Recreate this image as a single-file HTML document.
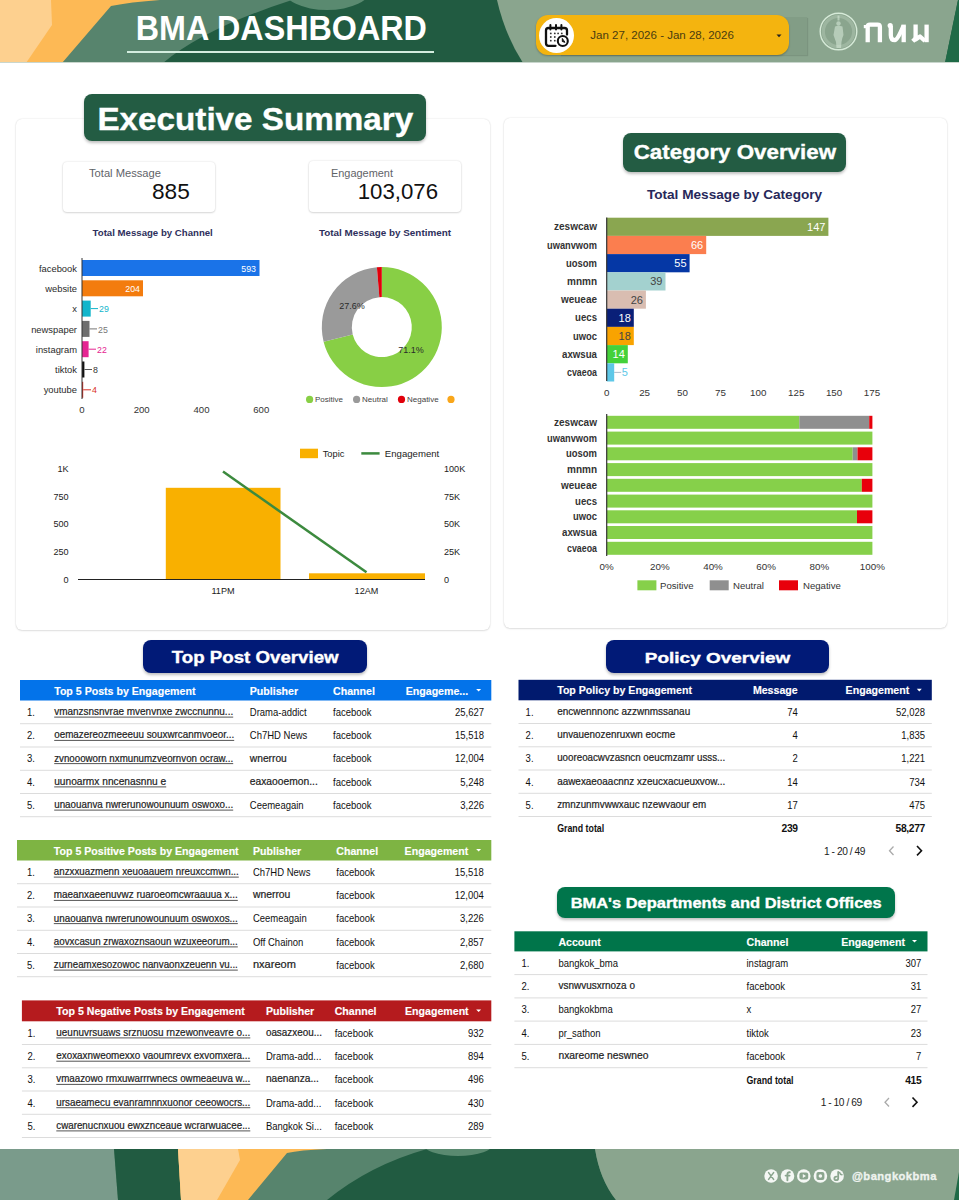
<!DOCTYPE html>
<html><head><meta charset="utf-8">
<style>
*{margin:0;padding:0;box-sizing:border-box}
html,body{width:959px;height:1200px;overflow:hidden;background:#fff;font-family:"Liberation Sans",sans-serif;color:#222}
.a{position:absolute}
.card{position:absolute;background:#fff;border-radius:6px;box-shadow:0 0 1.5px rgba(0,0,0,0.16),0 1px 2px rgba(0,0,0,0.10)}
.badge{position:absolute;border-radius:8px;color:#fff;font-weight:bold;text-align:center;white-space:nowrap;box-shadow:0 2px 3px rgba(0,0,0,0.25)}
.badge span{-webkit-text-stroke:0.35px #fff}
.t{position:absolute;white-space:nowrap;line-height:1}
</style></head><body>
<!-- HEADER -->
<svg class="a" style="left:0;top:0" width="959" height="63" viewBox="0 0 959 63">
  <rect x="0" y="0" width="959" height="63" fill="#215b41"/>
  <ellipse cx="327" cy="-11" rx="44" ry="21" fill="#5a8a70"/>
  <path d="M0,0 L292,0 Q205,28 163,63 L0,63 Z" fill="#57846d"/>
  <path d="M0,0 L160,0 Q130,2 111,6 L62,63 L0,63 Z" fill="#fdb955"/>
  <path d="M0,0 L51,0 L52,25 L26,63 L0,63 Z" fill="#fdd08f"/>
  <path d="M497,0 L958,0 L945,63 L523,63 Q505,35 497,0 Z" fill="#8aa58e"/>
  <path d="M958,0 L959,0 L959,63 L945,63 Z" fill="#1f6a47"/>
  <rect x="0" y="62" width="959" height="1" fill="#c9d6cd"/>
</svg>
<svg class="a" style="left:120px;top:5px" width="320" height="45" viewBox="120 5 320 45"><text x="135.8" y="39.5" font-family="Liberation Sans" font-size="35" font-weight="bold" fill="#fff" textLength="291" lengthAdjust="spacingAndGlyphs">BMA DASHBOARD</text></svg>
<div class="a" style="left:127px;top:51px;width:307px;height:2px;background:#d3eddf"></div>
<!-- date picker -->
<div class="a" style="left:560px;top:17px;width:247px;height:38px;background:rgba(30,50,35,0.07);box-shadow:1px 1px 1px rgba(0,0,0,0.1)"></div>
<div class="a" style="left:535.5px;top:14.7px;width:253.5px;height:40.2px;background:#f4b40f;border-radius:12px;box-shadow:0 1px 2px rgba(0,0,0,0.25)"></div>
<div class="a" style="left:538.8px;top:18.4px;width:35px;height:35px;background:#fff;border-radius:50%"></div>
<svg class="a" style="left:540px;top:20px" width="32" height="32" viewBox="540 20 32 32" fill="none" stroke="#111" stroke-width="2.3" stroke-linecap="round">
  <path d="M555.5,45.8 H548.5 Q546,45.8 546,43.3 V30.5 Q546,28 548.5,28 H564.5 Q567,28 567,30.5 V34.5"/>
  <path d="M550.4,25 V29.5 M556,25 V29.5 M561.4,25 V29.5" stroke-width="2"/>
  <g fill="#333" stroke="none"><circle cx="550.8" cy="33.4" r="0.9"/><circle cx="554.8" cy="33.4" r="0.9"/><circle cx="558.1" cy="33.4" r="0.9"/><circle cx="561.8" cy="33.4" r="0.9"/><circle cx="550.8" cy="37" r="0.9"/><circle cx="554.8" cy="37" r="0.9"/><circle cx="550.8" cy="40.7" r="0.9"/><circle cx="554.8" cy="40.7" r="0.9"/></g>
  <circle cx="562.8" cy="41" r="5" stroke-width="2.1"/>
  <path d="M562.3,38.8 V41.5 L564.6,42.2 Z" fill="#111" stroke-width="1"/>
</svg>
<svg class="a" style="left:580px;top:20px" width="180" height="30" viewBox="580 20 180 30"><text x="590.3" y="39.4" font-family="Liberation Sans" font-size="11.6" fill="#4a3c10" textLength="143.5" lengthAdjust="spacingAndGlyphs">Jan 27, 2026 - Jan 28, 2026</text></svg>
<svg class="a" style="left:775.5px;top:34px" width="6" height="4" viewBox="0 0 6 4"><path d="M0.5,0.5 H5.5 L3,3.2 Z" fill="#222"/></svg>
<!-- logo -->
<svg class="a" style="left:815px;top:8px" width="48" height="48" viewBox="0 0 48 48" fill="none">
  <circle cx="23.5" cy="23.5" r="18.3" stroke="#d6ead8" stroke-width="1.4"/>
  <circle cx="23.5" cy="23.5" r="15.2" stroke="#cfe3d1" stroke-width="3.2" stroke-opacity="0.28"/>
  <g fill="#d4e6d5" fill-opacity="0.6">
    <path d="M22.5,7.5 h2 v5 h-2 z"/>
    <ellipse cx="23.5" cy="15.5" rx="2.2" ry="2.3"/>
    <path d="M20,18.5 Q23.5,17 27.5,18.5 L28.5,27 Q27,30 26.5,34 L26,40 L21.5,40 L21,34 Q19.5,30 18.5,27 Z"/>
  </g>
</svg>
<svg class="a" style="left:860px;top:15px" width="75" height="33" viewBox="0 0 75 33" fill="none" stroke="#fff" stroke-width="4.3" stroke-linejoin="round">
  <path d="M7.7,27.2 V11.5 Q7.7,9.6 10,9.6 H17.6 Q19.9,9.6 19.9,11.8 V27.2"/>
  <rect x="3.8" y="10" width="4" height="3.2" fill="#fff" stroke="none"/>
  <path d="M30.8,11 V20 Q30.8,25.2 35,25.2 Q37.5,25.2 43.6,10.5"/>
  <circle cx="30.2" cy="10.6" r="2.6" fill="#fff" stroke="none"/>
  <path d="M43.7,9.6 V27.2"/>
  <path d="M55.6,9.6 V24.5 L60,21.5 L65,26"/>
  <path d="M66.6,9.6 V27.2"/>
  <path d="M52.5,23.5 L55.5,26.5" stroke-width="3.5"/>
</svg>
<!-- LEFT CARD -->
<div class="card" style="left:16.3px;top:119px;width:474px;height:510.5px"></div>

<div class="badge" style="left:83.8px;top:93.8px;width:342.7px;height:47.4px;background:#235c43"><span style="position:absolute;left:0;right:0;top:2.6px;line-height:47.4px;font-size:30.8px;transform:scaleX(1.079);transform-origin:50% 50%">Executive Summary</span></div>
<!-- KPI -->
<div class="card" style="left:63px;top:162px;width:152px;height:50px;border-radius:4px;box-shadow:0 0 2px rgba(0,0,0,0.15),0 1px 2px rgba(0,0,0,0.12)"></div>
<div class="card" style="left:309px;top:161px;width:152px;height:51px;border-radius:4px;box-shadow:0 0 2px rgba(0,0,0,0.15),0 1px 2px rgba(0,0,0,0.12)"></div>
<svg class="a" style="left:0;top:150px" width="500" height="100" viewBox="0 150 500 100" font-family="Liberation Sans">
  <text x="89" y="176.6" font-size="11.2" fill="#5f6368" textLength="72" lengthAdjust="spacingAndGlyphs">Total Message</text>
  <text x="152" y="199.3" font-size="21.5" fill="#111" textLength="37.8" lengthAdjust="spacingAndGlyphs">885</text>
  <text x="331" y="176.6" font-size="11.2" fill="#5f6368" textLength="62" lengthAdjust="spacingAndGlyphs">Engagement</text>
  <text x="357.7" y="199.3" font-size="21.5" fill="#111" textLength="80.3" lengthAdjust="spacingAndGlyphs">103,076</text>
  <text x="92.6" y="236.2" font-size="9.8" font-weight="bold" fill="#2e2f5c" textLength="120.2" lengthAdjust="spacingAndGlyphs">Total Message by Channel</text>
  <text x="319" y="236.2" font-size="9.8" font-weight="bold" fill="#2e2f5c" textLength="132" lengthAdjust="spacingAndGlyphs">Total Message by Sentiment</text>
</svg>
<!-- channel bar chart -->
<svg class="a" style="left:0;top:250px" width="290" height="170" viewBox="0 250 290 170" font-family="Liberation Sans" font-size="10">
  <g text-anchor="end" fill="#2b2b2b" font-size="9.4">
    <text x="77" y="271.5">facebook</text>
    <text x="77" y="292">website</text>
    <text x="77" y="312.3">x</text>
    <text x="77" y="332.5">newspaper</text>
    <text x="77" y="352.8">instagram</text>
    <text x="77" y="373">tiktok</text>
    <text x="77" y="393.3">youtube</text>
  </g>
  <rect x="82" y="260" width="177.5" height="16" fill="#1a73e8"/>
  <rect x="82" y="280.3" width="61" height="16" fill="#f37c0e"/>
  <rect x="82" y="300.6" width="8.7" height="16" fill="#12b5cb"/>
  <rect x="82" y="320.9" width="7.5" height="16" fill="#6e6e6e"/>
  <rect x="82" y="341.2" width="6.6" height="16" fill="#e52592"/>
  <rect x="82" y="361.5" width="2.4" height="16" fill="#111"/>
  <rect x="82" y="381.8" width="1.2" height="16" fill="#d93025"/>
  <g stroke-width="1">
    <line x1="90.7" y1="308.6" x2="98" y2="308.6" stroke="#12b5cb"/>
    <line x1="89.5" y1="328.9" x2="97" y2="328.9" stroke="#777"/>
    <line x1="88.6" y1="349.2" x2="96" y2="349.2" stroke="#e52592"/>
    <line x1="84.4" y1="369.5" x2="92" y2="369.5" stroke="#555"/>
    <line x1="83.2" y1="389.8" x2="91" y2="389.8" stroke="#d93025"/>
  </g>
  <text x="256" y="271.5" text-anchor="end" fill="#fff" font-size="8.8">593</text>
  <text x="140" y="292" text-anchor="end" fill="#fff" font-size="8.8">204</text>
  <text x="99" y="312.3" fill="#12b5cb" font-size="8.8">29</text>
  <text x="98" y="332.5" fill="#777" font-size="8.8">25</text>
  <text x="97" y="352.8" fill="#e52592" font-size="8.8">22</text>
  <text x="93" y="373" fill="#333" font-size="8.8">8</text>
  <text x="92" y="393.3" fill="#d93025" font-size="8.8">4</text>
  <line x1="82" y1="258" x2="82" y2="399" stroke="#333" stroke-width="1"/>
  <g text-anchor="middle" fill="#333" font-size="9.6">
    <text x="82" y="413">0</text>
    <text x="141.7" y="413">200</text>
    <text x="201.5" y="413">400</text>
    <text x="261.3" y="413">600</text>
  </g>
</svg>
<!-- donut -->
<svg class="a" style="left:290px;top:250px" width="200" height="165" viewBox="290 250 200 165" font-family="Liberation Sans">
  <g transform="translate(381.8,327.1)">
    <path d="M0.00,-60.00 A60,60 0 1 1 -58.21,14.56 L-29.10,7.28 A30,30 0 1 0 0.00,-30.00 Z" fill="#88cf45"/><path d="M-58.21,14.56 A60,60 0 0 1 -4.90,-59.80 L-2.45,-29.90 A30,30 0 0 0 -29.10,7.28 Z" fill="#9a9a9a"/><path d="M-4.90,-59.80 A60,60 0 0 1 -0.00,-60.00 L-0.00,-30.00 A30,30 0 0 0 -2.45,-29.90 Z" fill="#e1000b"/>
  </g>

  <text x="352" y="308.8" text-anchor="middle" font-size="9" fill="#2a2a2a">27.6%</text>
  <text x="411" y="352.8" text-anchor="middle" font-size="9" fill="#2a2a2a">71.1%</text>
  <circle cx="309.6" cy="399.4" r="3.6" fill="#88cf45"/><text x="315" y="402.3" font-size="8" fill="#444">Positive</text>
  <circle cx="356.6" cy="399.4" r="3.6" fill="#9a9a9a"/><text x="362" y="402.3" font-size="8" fill="#444">Neutral</text>
  <circle cx="401.5" cy="399.4" r="3.6" fill="#e1000b"/><text x="407" y="402.3" font-size="8" fill="#444">Negative</text>
  <circle cx="451" cy="399.4" r="3.6" fill="#f9a61a"/>
</svg>
<!-- combo chart -->
<svg class="a" style="left:20px;top:440px" width="465" height="160" viewBox="20 440 465 160" font-family="Liberation Sans" font-size="9.5">
  <rect x="300" y="448.7" width="18" height="9.5" fill="#f9b000"/>
  <text x="322.7" y="457" fill="#222" font-size="9.3">Topic</text>
  <line x1="361.3" y1="453.4" x2="379.6" y2="453.4" stroke="#3c8a3e" stroke-width="2.5"/>
  <text x="384.8" y="457" fill="#222" font-size="9.3" textLength="54.5" lengthAdjust="spacingAndGlyphs">Engagement</text>
  <g text-anchor="end" fill="#222" font-size="9.1">
    <text x="68.6" y="472">1K</text>
    <text x="68.6" y="499.7">750</text>
    <text x="68.6" y="527.3">500</text>
    <text x="68.6" y="555">250</text>
    <text x="68.6" y="582.5">0</text>
  </g>
  <g fill="#222" font-size="9.1">
    <text x="444" y="472">100K</text>
    <text x="444" y="499.7">75K</text>
    <text x="444" y="527.3">50K</text>
    <text x="444" y="555">25K</text>
    <text x="444" y="582.5">0</text>
  </g>
  <rect x="165.8" y="487.8" width="114.7" height="91.2" fill="#f9b000"/>
  <rect x="309" y="573.3" width="116" height="5.7" fill="#f9b000"/>
  <rect x="78" y="579" width="347" height="1" fill="#222"/>
  <line x1="223" y1="471.6" x2="366.5" y2="572.2" stroke="#3c8a3e" stroke-width="2.5"/>
  <g text-anchor="middle" fill="#222" font-size="9.1">
    <text x="223" y="594">11PM</text>
    <text x="366.5" y="594">12AM</text>
  </g>
</svg>
<!-- RIGHT CARD -->
<div class="card" style="left:503.5px;top:117.5px;width:443.5px;height:510.5px"></div>
<div class="badge" style="left:622.5px;top:133px;width:223.8px;height:38.8px;background:#235c43"><span style="position:absolute;left:0;right:0;top:0.7px;line-height:38.8px;font-size:19.3px;transform:scaleX(1.158);transform-origin:50% 50%">Category Overview</span></div>

<!-- CAT -->
<svg class="a" style="left:504px;top:180px" width="442" height="440" viewBox="504 180 442 440" font-family="Liberation Sans">
<text x="646.9" y="198.8" font-size="13.6" font-weight="bold" fill="#27285a" textLength="175.3" lengthAdjust="spacingAndGlyphs">Total Message by Category</text>
<text x="554.0" y="230.3" font-size="11" font-weight="bold" fill="#333" textLength="43" lengthAdjust="spacingAndGlyphs">zeswcaw</text>
<rect x="606.7" y="217.7" width="221.7" height="18.2" fill="#8aa650"/>
<text x="825.4" y="230.8" text-anchor="end" font-size="11" fill="#fff">147</text>
<text x="547.0" y="248.5" font-size="11" font-weight="bold" fill="#333" textLength="50" lengthAdjust="spacingAndGlyphs">uwanvwom</text>
<rect x="606.7" y="235.9" width="99.5" height="18.2" fill="#fb7e4f"/>
<text x="703.2" y="249.0" text-anchor="end" font-size="11" fill="#fff">66</text>
<text x="566.0" y="266.7" font-size="11" font-weight="bold" fill="#333" textLength="31" lengthAdjust="spacingAndGlyphs">uosom</text>
<rect x="606.7" y="254.1" width="82.9" height="18.2" fill="#0537a5"/>
<text x="686.6" y="267.2" text-anchor="end" font-size="11" fill="#fff">55</text>
<text x="567.0" y="284.9" font-size="11" font-weight="bold" fill="#333" textLength="30" lengthAdjust="spacingAndGlyphs">mnmn</text>
<rect x="606.7" y="272.3" width="58.8" height="18.2" fill="#a3d1cf"/>
<text x="662.5" y="285.4" text-anchor="end" font-size="11" fill="#444">39</text>
<text x="561.0" y="303.1" font-size="11" font-weight="bold" fill="#333" textLength="36" lengthAdjust="spacingAndGlyphs">weueae</text>
<rect x="606.7" y="290.5" width="39.2" height="18.2" fill="#d9bdb1"/>
<text x="642.9" y="303.6" text-anchor="end" font-size="11" fill="#444">26</text>
<text x="575.0" y="321.3" font-size="11" font-weight="bold" fill="#333" textLength="22" lengthAdjust="spacingAndGlyphs">uecs</text>
<rect x="606.7" y="308.7" width="27.1" height="18.2" fill="#0a1f78"/>
<text x="630.8" y="321.8" text-anchor="end" font-size="11" fill="#fff">18</text>
<text x="573.0" y="339.5" font-size="11" font-weight="bold" fill="#333" textLength="24" lengthAdjust="spacingAndGlyphs">uwoc</text>
<rect x="606.7" y="326.9" width="27.1" height="18.2" fill="#f9a300"/>
<text x="630.8" y="340.0" text-anchor="end" font-size="11" fill="#444">18</text>
<text x="562.0" y="357.7" font-size="11" font-weight="bold" fill="#333" textLength="35" lengthAdjust="spacingAndGlyphs">axwsua</text>
<rect x="606.7" y="345.1" width="21.1" height="18.2" fill="#44d13a"/>
<text x="624.8" y="358.2" text-anchor="end" font-size="11" fill="#fff">14</text>
<text x="567.0" y="375.9" font-size="11" font-weight="bold" fill="#333" textLength="30" lengthAdjust="spacingAndGlyphs">cvaeoa</text>
<rect x="606.7" y="363.3" width="7.5" height="18.2" fill="#5ec8e8"/>
<line x1="614.2" y1="372.4" x2="621.2" y2="372.4" stroke="#9ab" stroke-width="0.8"/>
<text x="621.7" y="376.4" font-size="11" fill="#5ec8e8">5</text>
<rect x="606.1" y="217.5" width="1.2" height="163.5" fill="#333"/>
<text x="606.7" y="395.5" text-anchor="middle" font-size="9.8" fill="#333">0</text>
<text x="644.6" y="395.5" text-anchor="middle" font-size="9.8" fill="#333">25</text>
<text x="682.5" y="395.5" text-anchor="middle" font-size="9.8" fill="#333">50</text>
<text x="720.4" y="395.5" text-anchor="middle" font-size="9.8" fill="#333">75</text>
<text x="758.3" y="395.5" text-anchor="middle" font-size="9.8" fill="#333">100</text>
<text x="796.2" y="395.5" text-anchor="middle" font-size="9.8" fill="#333">125</text>
<text x="834.1" y="395.5" text-anchor="middle" font-size="9.8" fill="#333">150</text>
<text x="872.0" y="395.5" text-anchor="middle" font-size="9.8" fill="#333">175</text>
<text x="554.0" y="425.8" font-size="11" font-weight="bold" fill="#333" textLength="43" lengthAdjust="spacingAndGlyphs">zeswcaw</text>
<rect x="606.7" y="415.8" width="192.6" height="13" fill="#86d04a"/>
<rect x="799.3" y="415.8" width="69.9" height="13" fill="#8f8f8f"/>
<rect x="869.2" y="415.8" width="3.2" height="13" fill="#e8000b"/>
<text x="547.0" y="441.6" font-size="11" font-weight="bold" fill="#333" textLength="50" lengthAdjust="spacingAndGlyphs">uwanvwom</text>
<rect x="606.7" y="431.6" width="265.7" height="13" fill="#86d04a"/>
<text x="566.0" y="457.3" font-size="11" font-weight="bold" fill="#333" textLength="31" lengthAdjust="spacingAndGlyphs">uosom</text>
<rect x="606.7" y="447.3" width="246.0" height="13" fill="#86d04a"/>
<rect x="852.7" y="447.3" width="4.8" height="13" fill="#8f8f8f"/>
<rect x="857.5" y="447.3" width="14.9" height="13" fill="#e8000b"/>
<text x="567.0" y="473.1" font-size="11" font-weight="bold" fill="#333" textLength="30" lengthAdjust="spacingAndGlyphs">mnmn</text>
<rect x="606.7" y="463.1" width="265.7" height="13" fill="#86d04a"/>
<text x="561.0" y="488.8" font-size="11" font-weight="bold" fill="#333" textLength="36" lengthAdjust="spacingAndGlyphs">weueae</text>
<rect x="606.7" y="478.8" width="255.1" height="13" fill="#86d04a"/>
<rect x="861.8" y="478.8" width="10.6" height="13" fill="#e8000b"/>
<text x="575.0" y="504.6" font-size="11" font-weight="bold" fill="#333" textLength="22" lengthAdjust="spacingAndGlyphs">uecs</text>
<rect x="606.7" y="494.6" width="265.7" height="13" fill="#86d04a"/>
<text x="573.0" y="520.3" font-size="11" font-weight="bold" fill="#333" textLength="24" lengthAdjust="spacingAndGlyphs">uwoc</text>
<rect x="606.7" y="510.3" width="250.3" height="13" fill="#86d04a"/>
<rect x="857.0" y="510.3" width="15.4" height="13" fill="#e8000b"/>
<text x="562.0" y="536.0" font-size="11" font-weight="bold" fill="#333" textLength="35" lengthAdjust="spacingAndGlyphs">axwsua</text>
<rect x="606.7" y="526.0" width="265.7" height="13" fill="#86d04a"/>
<text x="567.0" y="551.8" font-size="11" font-weight="bold" fill="#333" textLength="30" lengthAdjust="spacingAndGlyphs">cvaeoa</text>
<rect x="606.7" y="541.8" width="265.7" height="13" fill="#86d04a"/>
<rect x="606.1" y="414" width="1.2" height="142" fill="#333"/>
<text x="606.7" y="569.5" text-anchor="middle" font-size="9.8" fill="#333">0%</text>
<text x="659.8" y="569.5" text-anchor="middle" font-size="9.8" fill="#333">20%</text>
<text x="713.0" y="569.5" text-anchor="middle" font-size="9.8" fill="#333">40%</text>
<text x="766.1" y="569.5" text-anchor="middle" font-size="9.8" fill="#333">60%</text>
<text x="819.3" y="569.5" text-anchor="middle" font-size="9.8" fill="#333">80%</text>
<text x="872.4" y="569.5" text-anchor="middle" font-size="9.8" fill="#333">100%</text>
<rect x="637.4" y="580.3" width="19" height="10" fill="#86d04a"/><text x="660" y="589" font-size="9.6" fill="#333">Positive</text>
<rect x="709.7" y="580.3" width="19" height="10" fill="#8f8f8f"/><text x="733" y="589" font-size="9.6" fill="#333">Neutral</text>
<rect x="779" y="580.3" width="19" height="10" fill="#e8000b"/><text x="803" y="589" font-size="9.6" fill="#333">Negative</text>
</svg>
<!-- /CAT -->
<!-- BADGES2 -->
<div class="badge" style="left:142.9px;top:639.8px;width:224.4px;height:33.1px;background:#011a77"><span style="position:absolute;left:0;right:0;top:1.5px;line-height:33.1px;font-size:16px;transform:scaleX(1.167);transform-origin:50% 50%">Top Post Overview</span></div>
<div class="badge" style="left:606.3px;top:640px;width:223.2px;height:32.5px;background:#011a77"><span style="position:absolute;left:0;right:0;top:2px;line-height:32.5px;font-size:15px;transform:scaleX(1.265);transform-origin:50% 50%">Policy Overview</span></div>
<div class="badge" style="left:556.6px;top:886.6px;width:338.3px;height:31.7px;background:#00754b"><span style="position:absolute;left:0;right:0;top:0.5px;line-height:31.7px;font-size:15.5px;transform:scaleX(1.061);transform-origin:50% 50%">BMA's Departments and District Offices</span></div>
<!-- TABLES -->
<svg class="a" style="left:0;top:630px" width="959" height="520" viewBox="0 630 959 520" font-family="Liberation Sans">
<rect x="20" y="680" width="471.3" height="20.5" fill="#0373ea"/>
<text transform="translate(54.2 694.5) scale(0.915 1)" font-size="11.6" font-weight="bold" fill="#fff" stroke="#fff" stroke-width="0.15" text-anchor="start">Top 5 Posts by Engagement</text>
<text transform="translate(249.8 694.5) scale(0.915 1)" font-size="11.6" font-weight="bold" fill="#fff" stroke="#fff" stroke-width="0.15" text-anchor="start">Publisher</text>
<text transform="translate(333 694.5) scale(0.915 1)" font-size="11.6" font-weight="bold" fill="#fff" stroke="#fff" stroke-width="0.15" text-anchor="start">Channel</text>
<text transform="translate(405.7 694.5) scale(0.915 1)" font-size="11.6" font-weight="bold" fill="#fff" stroke="#fff" stroke-width="0.15" text-anchor="start">Engageme...</text>
<path d="M476.1,689.0 h5 l-2.5,2.6 z" fill="#fff"/>
<text transform="translate(27 715.9) scale(0.905 1)" font-size="10.5" fill="#111" text-anchor="start">1.</text>
<text x="54.2" y="715.1" font-size="10.8" fill="#1e1e1e" stroke="#1e1e1e" stroke-width="0.22" textLength="179" lengthAdjust="spacingAndGlyphs">vmanzsnsnvrae mvenvnxe zwccnunnu...</text><rect x="54.2" y="716.6" width="179" height="1" fill="#555"/>
<text transform="translate(249.8 715.9) scale(0.905 1)" font-size="10.5" fill="#111" text-anchor="start">Drama-addict</text>
<text transform="translate(333 715.9) scale(0.905 1)" font-size="10.5" fill="#111" text-anchor="start">facebook</text>
<text transform="translate(484.1 715.9) scale(0.905 1)" font-size="10.5" fill="#111" text-anchor="end">25,627</text>
<rect x="20" y="723.2" width="471.3" height="1" fill="#dcdcdc"/>
<text transform="translate(27 739.2) scale(0.905 1)" font-size="10.5" fill="#111" text-anchor="start">2.</text>
<text x="54.2" y="738.4" font-size="10.8" fill="#1e1e1e" stroke="#1e1e1e" stroke-width="0.22" textLength="180" lengthAdjust="spacingAndGlyphs">oemazereozmeeeuu souxwrcanmvoeor...</text><rect x="54.2" y="739.9" width="180" height="1" fill="#555"/>
<text transform="translate(249.8 739.2) scale(0.905 1)" font-size="10.5" fill="#111" text-anchor="start">Ch7HD News</text>
<text transform="translate(333 739.2) scale(0.905 1)" font-size="10.5" fill="#111" text-anchor="start">facebook</text>
<text transform="translate(484.1 739.2) scale(0.905 1)" font-size="10.5" fill="#111" text-anchor="end">15,518</text>
<rect x="20" y="746.5" width="471.3" height="1" fill="#dcdcdc"/>
<text transform="translate(27 762.4) scale(0.905 1)" font-size="10.5" fill="#111" text-anchor="start">3.</text>
<text x="54.2" y="761.6" font-size="10.8" fill="#1e1e1e" stroke="#1e1e1e" stroke-width="0.22" textLength="179" lengthAdjust="spacingAndGlyphs">zvnoooworn nxmunumzveornvon ocraw...</text><rect x="54.2" y="763.1" width="179" height="1" fill="#555"/>
<text x="249.8" y="761.6" font-size="10.8" fill="#1e1e1e" stroke="#1e1e1e" stroke-width="0.22" textLength="37" lengthAdjust="spacingAndGlyphs">wnerrou</text>
<text transform="translate(333 762.4) scale(0.905 1)" font-size="10.5" fill="#111" text-anchor="start">facebook</text>
<text transform="translate(484.1 762.4) scale(0.905 1)" font-size="10.5" fill="#111" text-anchor="end">12,004</text>
<rect x="20" y="769.8" width="471.3" height="1" fill="#dcdcdc"/>
<text transform="translate(27 785.7) scale(0.905 1)" font-size="10.5" fill="#111" text-anchor="start">4.</text>
<text x="54.2" y="784.9" font-size="10.8" fill="#1e1e1e" stroke="#1e1e1e" stroke-width="0.22" textLength="112" lengthAdjust="spacingAndGlyphs">uunoarmx nncenasnnu e</text><rect x="54.2" y="786.4" width="112" height="1" fill="#555"/>
<text x="249.8" y="784.9" font-size="10.8" fill="#1e1e1e" stroke="#1e1e1e" stroke-width="0.22" textLength="68" lengthAdjust="spacingAndGlyphs">eaxaooemon...</text>
<text transform="translate(333 785.7) scale(0.905 1)" font-size="10.5" fill="#111" text-anchor="start">facebook</text>
<text transform="translate(484.1 785.7) scale(0.905 1)" font-size="10.5" fill="#111" text-anchor="end">5,248</text>
<rect x="20" y="793.0" width="471.3" height="1" fill="#dcdcdc"/>
<text transform="translate(27 808.9) scale(0.905 1)" font-size="10.5" fill="#111" text-anchor="start">5.</text>
<text x="54.2" y="808.1" font-size="10.8" fill="#1e1e1e" stroke="#1e1e1e" stroke-width="0.22" textLength="179" lengthAdjust="spacingAndGlyphs">unaouanva nwrerunowounuum oswoxo...</text><rect x="54.2" y="809.6" width="179" height="1" fill="#555"/>
<text transform="translate(249.8 808.9) scale(0.905 1)" font-size="10.5" fill="#111" text-anchor="start">Ceemeagain</text>
<text transform="translate(333 808.9) scale(0.905 1)" font-size="10.5" fill="#111" text-anchor="start">facebook</text>
<text transform="translate(484.1 808.9) scale(0.905 1)" font-size="10.5" fill="#111" text-anchor="end">3,226</text>
<rect x="20" y="816.2" width="471.3" height="1" fill="#dcdcdc"/>
<rect x="17" y="840" width="474.3" height="20.5" fill="#7eb443"/>
<text transform="translate(53.8 854.5) scale(0.915 1)" font-size="11.6" font-weight="bold" fill="#fff" stroke="#fff" stroke-width="0.15" text-anchor="start">Top 5 Positive Posts by Engagement</text>
<text transform="translate(252.9 854.5) scale(0.915 1)" font-size="11.6" font-weight="bold" fill="#fff" stroke="#fff" stroke-width="0.15" text-anchor="start">Publisher</text>
<text transform="translate(336.3 854.5) scale(0.915 1)" font-size="11.6" font-weight="bold" fill="#fff" stroke="#fff" stroke-width="0.15" text-anchor="start">Channel</text>
<text transform="translate(404.6 854.5) scale(0.915 1)" font-size="11.6" font-weight="bold" fill="#fff" stroke="#fff" stroke-width="0.15" text-anchor="start">Engagement</text>
<path d="M476.1,849.0 h5 l-2.5,2.6 z" fill="#fff"/>
<text transform="translate(27 875.9) scale(0.905 1)" font-size="10.5" fill="#111" text-anchor="start">1.</text>
<text x="53.8" y="875.1" font-size="10.8" fill="#1e1e1e" stroke="#1e1e1e" stroke-width="0.22" textLength="185" lengthAdjust="spacingAndGlyphs">anzxxuazmenn xeuoaauem nreuxccmwn...</text><rect x="53.8" y="876.6" width="185" height="1" fill="#555"/>
<text transform="translate(252.9 875.9) scale(0.905 1)" font-size="10.5" fill="#111" text-anchor="start">Ch7HD News</text>
<text transform="translate(336.3 875.9) scale(0.905 1)" font-size="10.5" fill="#111" text-anchor="start">facebook</text>
<text transform="translate(483.8 875.9) scale(0.905 1)" font-size="10.5" fill="#111" text-anchor="end">15,518</text>
<rect x="17" y="883.2" width="474.3" height="1" fill="#dcdcdc"/>
<text transform="translate(27 899.2) scale(0.905 1)" font-size="10.5" fill="#111" text-anchor="start">2.</text>
<text x="53.8" y="898.4" font-size="10.8" fill="#1e1e1e" stroke="#1e1e1e" stroke-width="0.22" textLength="184" lengthAdjust="spacingAndGlyphs">maeanxaeenuvwz ruaroeomcwraauua x...</text><rect x="53.8" y="899.9" width="184" height="1" fill="#555"/>
<text x="252.9" y="898.4" font-size="10.8" fill="#1e1e1e" stroke="#1e1e1e" stroke-width="0.22" textLength="37.5" lengthAdjust="spacingAndGlyphs">wnerrou</text>
<text transform="translate(336.3 899.2) scale(0.905 1)" font-size="10.5" fill="#111" text-anchor="start">facebook</text>
<text transform="translate(483.8 899.2) scale(0.905 1)" font-size="10.5" fill="#111" text-anchor="end">12,004</text>
<rect x="17" y="906.5" width="474.3" height="1" fill="#dcdcdc"/>
<text transform="translate(27 922.4) scale(0.905 1)" font-size="10.5" fill="#111" text-anchor="start">3.</text>
<text x="53.8" y="921.6" font-size="10.8" fill="#1e1e1e" stroke="#1e1e1e" stroke-width="0.22" textLength="184" lengthAdjust="spacingAndGlyphs">unaouanva nwrerunowounuum oswoxos...</text><rect x="53.8" y="923.1" width="184" height="1" fill="#555"/>
<text transform="translate(252.9 922.4) scale(0.905 1)" font-size="10.5" fill="#111" text-anchor="start">Ceemeagain</text>
<text transform="translate(336.3 922.4) scale(0.905 1)" font-size="10.5" fill="#111" text-anchor="start">facebook</text>
<text transform="translate(483.8 922.4) scale(0.905 1)" font-size="10.5" fill="#111" text-anchor="end">3,226</text>
<rect x="17" y="929.8" width="474.3" height="1" fill="#dcdcdc"/>
<text transform="translate(27 945.7) scale(0.905 1)" font-size="10.5" fill="#111" text-anchor="start">4.</text>
<text x="53.8" y="944.9" font-size="10.8" fill="#1e1e1e" stroke="#1e1e1e" stroke-width="0.22" textLength="184" lengthAdjust="spacingAndGlyphs">aovxcasun zrwaxoznsaoun wzuxeeorum...</text><rect x="53.8" y="946.4" width="184" height="1" fill="#555"/>
<text transform="translate(252.9 945.7) scale(0.905 1)" font-size="10.5" fill="#111" text-anchor="start">Off Chainon</text>
<text transform="translate(336.3 945.7) scale(0.905 1)" font-size="10.5" fill="#111" text-anchor="start">facebook</text>
<text transform="translate(483.8 945.7) scale(0.905 1)" font-size="10.5" fill="#111" text-anchor="end">2,857</text>
<rect x="17" y="953.0" width="474.3" height="1" fill="#dcdcdc"/>
<text transform="translate(27 968.9) scale(0.905 1)" font-size="10.5" fill="#111" text-anchor="start">5.</text>
<text x="53.8" y="968.1" font-size="10.8" fill="#1e1e1e" stroke="#1e1e1e" stroke-width="0.22" textLength="184" lengthAdjust="spacingAndGlyphs">zurneamxesozowoc nanvaonxzeuenn vu...</text><rect x="53.8" y="969.6" width="184" height="1" fill="#555"/>
<text x="252.9" y="968.1" font-size="10.8" fill="#1e1e1e" stroke="#1e1e1e" stroke-width="0.22" textLength="43" lengthAdjust="spacingAndGlyphs">nxareom</text>
<text transform="translate(336.3 968.9) scale(0.905 1)" font-size="10.5" fill="#111" text-anchor="start">facebook</text>
<text transform="translate(483.8 968.9) scale(0.905 1)" font-size="10.5" fill="#111" text-anchor="end">2,680</text>
<rect x="17" y="976.2" width="474.3" height="1" fill="#dcdcdc"/>
<rect x="21.9" y="1000.4" width="469.4" height="20.9" fill="#b51b1e"/>
<text transform="translate(56.3 1015.1) scale(0.915 1)" font-size="11.6" font-weight="bold" fill="#fff" stroke="#fff" stroke-width="0.15" text-anchor="start">Top 5 Negative Posts by Engagement</text>
<text transform="translate(265.9 1015.1) scale(0.915 1)" font-size="11.6" font-weight="bold" fill="#fff" stroke="#fff" stroke-width="0.15" text-anchor="start">Publisher</text>
<text transform="translate(334.7 1015.1) scale(0.915 1)" font-size="11.6" font-weight="bold" fill="#fff" stroke="#fff" stroke-width="0.15" text-anchor="start">Channel</text>
<text transform="translate(405 1015.1) scale(0.915 1)" font-size="11.6" font-weight="bold" fill="#fff" stroke="#fff" stroke-width="0.15" text-anchor="start">Engagement</text>
<path d="M476.1,1009.5 h5 l-2.5,2.6 z" fill="#fff"/>
<text transform="translate(27.5 1036.7) scale(0.905 1)" font-size="10.5" fill="#111" text-anchor="start">1.</text>
<text x="56.3" y="1035.9" font-size="10.8" fill="#1e1e1e" stroke="#1e1e1e" stroke-width="0.22" textLength="194" lengthAdjust="spacingAndGlyphs">ueunuvrsuaws srznuosu rnzewonveavre o...</text><rect x="56.3" y="1037.4" width="194" height="1" fill="#555"/>
<text x="265.9" y="1035.9" font-size="10.8" fill="#1e1e1e" stroke="#1e1e1e" stroke-width="0.22" textLength="56" lengthAdjust="spacingAndGlyphs">oasazxeou...</text>
<text transform="translate(334.7 1036.7) scale(0.905 1)" font-size="10.5" fill="#111" text-anchor="start">facebook</text>
<text transform="translate(483.8 1036.7) scale(0.905 1)" font-size="10.5" fill="#111" text-anchor="end">932</text>
<rect x="21.9" y="1044.0" width="469.4" height="1" fill="#dcdcdc"/>
<text transform="translate(27.5 1060.0) scale(0.905 1)" font-size="10.5" fill="#111" text-anchor="start">2.</text>
<text x="56.3" y="1059.2" font-size="10.8" fill="#1e1e1e" stroke="#1e1e1e" stroke-width="0.22" textLength="194" lengthAdjust="spacingAndGlyphs">exoxaxnweomexxo vaoumrevx exvomxera...</text><rect x="56.3" y="1060.7" width="194" height="1" fill="#555"/>
<text transform="translate(265.9 1060.0) scale(0.905 1)" font-size="10.5" fill="#111" text-anchor="start">Drama-add...</text>
<text transform="translate(334.7 1060.0) scale(0.905 1)" font-size="10.5" fill="#111" text-anchor="start">facebook</text>
<text transform="translate(483.8 1060.0) scale(0.905 1)" font-size="10.5" fill="#111" text-anchor="end">894</text>
<rect x="21.9" y="1067.3" width="469.4" height="1" fill="#dcdcdc"/>
<text transform="translate(27.5 1083.2) scale(0.905 1)" font-size="10.5" fill="#111" text-anchor="start">3.</text>
<text x="56.3" y="1082.4" font-size="10.8" fill="#1e1e1e" stroke="#1e1e1e" stroke-width="0.22" textLength="194" lengthAdjust="spacingAndGlyphs">vmaazowo rmxuwarrrwnecs owmeaeuva w...</text><rect x="56.3" y="1083.9" width="194" height="1" fill="#555"/>
<text x="265.9" y="1082.4" font-size="10.8" fill="#1e1e1e" stroke="#1e1e1e" stroke-width="0.22" textLength="53" lengthAdjust="spacingAndGlyphs">naenanza...</text>
<text transform="translate(334.7 1083.2) scale(0.905 1)" font-size="10.5" fill="#111" text-anchor="start">facebook</text>
<text transform="translate(483.8 1083.2) scale(0.905 1)" font-size="10.5" fill="#111" text-anchor="end">496</text>
<rect x="21.9" y="1090.5" width="469.4" height="1" fill="#dcdcdc"/>
<text transform="translate(27.5 1106.5) scale(0.905 1)" font-size="10.5" fill="#111" text-anchor="start">4.</text>
<text x="56.3" y="1105.7" font-size="10.8" fill="#1e1e1e" stroke="#1e1e1e" stroke-width="0.22" textLength="194" lengthAdjust="spacingAndGlyphs">ursaeamecu evanramnnxuonor ceeowocrs...</text><rect x="56.3" y="1107.2" width="194" height="1" fill="#555"/>
<text transform="translate(265.9 1106.5) scale(0.905 1)" font-size="10.5" fill="#111" text-anchor="start">Drama-add...</text>
<text transform="translate(334.7 1106.5) scale(0.905 1)" font-size="10.5" fill="#111" text-anchor="start">facebook</text>
<text transform="translate(483.8 1106.5) scale(0.905 1)" font-size="10.5" fill="#111" text-anchor="end">430</text>
<rect x="21.9" y="1113.8" width="469.4" height="1" fill="#dcdcdc"/>
<text transform="translate(27.5 1129.7) scale(0.905 1)" font-size="10.5" fill="#111" text-anchor="start">5.</text>
<text x="56.3" y="1128.9" font-size="10.8" fill="#1e1e1e" stroke="#1e1e1e" stroke-width="0.22" textLength="194" lengthAdjust="spacingAndGlyphs">cwarenucnxuou ewxznceaue wcrarwuacee...</text><rect x="56.3" y="1130.4" width="194" height="1" fill="#555"/>
<text transform="translate(265.9 1129.7) scale(0.905 1)" font-size="10.5" fill="#111" text-anchor="start">Bangkok Si...</text>
<text transform="translate(334.7 1129.7) scale(0.905 1)" font-size="10.5" fill="#111" text-anchor="start">facebook</text>
<text transform="translate(483.8 1129.7) scale(0.905 1)" font-size="10.5" fill="#111" text-anchor="end">289</text>
<rect x="21.9" y="1137.0" width="469.4" height="1" fill="#dcdcdc"/>
<rect x="518.5" y="679.8" width="413.3" height="20.5" fill="#011a6e"/>
<text transform="translate(557.2 694.3) scale(0.915 1)" font-size="11.6" font-weight="bold" fill="#fff" stroke="#fff" stroke-width="0.15" text-anchor="start">Top Policy by Engagement</text>
<text transform="translate(797.7 694.3) scale(0.915 1)" font-size="11.6" font-weight="bold" fill="#fff" stroke="#fff" stroke-width="0.15" text-anchor="end">Message</text>
<text transform="translate(845.6 694.3) scale(0.915 1)" font-size="11.6" font-weight="bold" fill="#fff" stroke="#fff" stroke-width="0.15" text-anchor="start">Engagement</text>
<path d="M916.8,688.8 h5 l-2.5,2.6 z" fill="#fff"/>
<text transform="translate(525.6 715.7) scale(0.905 1)" font-size="10.5" fill="#111" text-anchor="start">1.</text>
<text x="557.2" y="714.9" font-size="10.8" fill="#1e1e1e" stroke="#1e1e1e" stroke-width="0.22" textLength="133" lengthAdjust="spacingAndGlyphs">encwennnonc azzwnmssanau</text>
<text transform="translate(797.7 715.7) scale(0.905 1)" font-size="10.5" fill="#111" text-anchor="end">74</text>
<text transform="translate(925 715.7) scale(0.905 1)" font-size="10.5" fill="#111" text-anchor="end">52,028</text>
<rect x="518.5" y="723.0" width="413.3" height="1" fill="#dcdcdc"/>
<text transform="translate(525.6 739.0) scale(0.905 1)" font-size="10.5" fill="#111" text-anchor="start">2.</text>
<text x="557.2" y="738.2" font-size="10.8" fill="#1e1e1e" stroke="#1e1e1e" stroke-width="0.22" textLength="118" lengthAdjust="spacingAndGlyphs">unvauenozenruxwn eocme</text>
<text transform="translate(797.7 739.0) scale(0.905 1)" font-size="10.5" fill="#111" text-anchor="end">4</text>
<text transform="translate(925 739.0) scale(0.905 1)" font-size="10.5" fill="#111" text-anchor="end">1,835</text>
<rect x="518.5" y="746.3" width="413.3" height="1" fill="#dcdcdc"/>
<text transform="translate(525.6 762.2) scale(0.905 1)" font-size="10.5" fill="#111" text-anchor="start">3.</text>
<text x="557.2" y="761.4" font-size="10.8" fill="#1e1e1e" stroke="#1e1e1e" stroke-width="0.22" textLength="168" lengthAdjust="spacingAndGlyphs">uooreoacwvzasncn oeucmzamr usss...</text>
<text transform="translate(797.7 762.2) scale(0.905 1)" font-size="10.5" fill="#111" text-anchor="end">2</text>
<text transform="translate(925 762.2) scale(0.905 1)" font-size="10.5" fill="#111" text-anchor="end">1,221</text>
<rect x="518.5" y="769.5" width="413.3" height="1" fill="#dcdcdc"/>
<text transform="translate(525.6 785.5) scale(0.905 1)" font-size="10.5" fill="#111" text-anchor="start">4.</text>
<text x="557.2" y="784.7" font-size="10.8" fill="#1e1e1e" stroke="#1e1e1e" stroke-width="0.22" textLength="168" lengthAdjust="spacingAndGlyphs">aawexaeoaacnnz xzeucxacueuxvow...</text>
<text transform="translate(797.7 785.5) scale(0.905 1)" font-size="10.5" fill="#111" text-anchor="end">14</text>
<text transform="translate(925 785.5) scale(0.905 1)" font-size="10.5" fill="#111" text-anchor="end">734</text>
<rect x="518.5" y="792.8" width="413.3" height="1" fill="#dcdcdc"/>
<text transform="translate(525.6 808.7) scale(0.905 1)" font-size="10.5" fill="#111" text-anchor="start">5.</text>
<text x="557.2" y="807.9" font-size="10.8" fill="#1e1e1e" stroke="#1e1e1e" stroke-width="0.22" textLength="149" lengthAdjust="spacingAndGlyphs">zmnzunmvwwxauc nzewvaour em</text>
<text transform="translate(797.7 808.7) scale(0.905 1)" font-size="10.5" fill="#111" text-anchor="end">17</text>
<text transform="translate(925 808.7) scale(0.905 1)" font-size="10.5" fill="#111" text-anchor="end">475</text>
<rect x="518.5" y="816.0" width="413.3" height="1" fill="#dcdcdc"/>
<text x="557.2" y="832" font-size="10" font-weight="bold" fill="#111" textLength="47" lengthAdjust="spacingAndGlyphs">Grand total</text>
<text x="797.7" y="832" font-size="10.3" letter-spacing="-0.35" font-weight="bold" fill="#111" text-anchor="end">239</text>
<text x="925" y="832" font-size="10.3" letter-spacing="-0.35" font-weight="bold" fill="#111" text-anchor="end">58,277</text>
<text x="824" y="854.5" font-size="10.2" letter-spacing="-0.45" fill="#222">1 - 20 / 49</text>
<path d="M893.5,846.5 L889.5,850.7 L893.5,855" fill="none" stroke="#aaa" stroke-width="1.3"/>
<path d="M917,846 L921.5,850.7 L917,855.4" fill="none" stroke="#111" stroke-width="1.6"/>
<rect x="514.4" y="931.3" width="413.1" height="20.1" fill="#00754a"/>
<text transform="translate(558.4 945.6) scale(0.915 1)" font-size="11.6" font-weight="bold" fill="#fff" stroke="#fff" stroke-width="0.15" text-anchor="start">Account</text>
<text transform="translate(746.5 945.6) scale(0.915 1)" font-size="11.6" font-weight="bold" fill="#fff" stroke="#fff" stroke-width="0.15" text-anchor="start">Channel</text>
<text transform="translate(841.3 945.6) scale(0.915 1)" font-size="11.6" font-weight="bold" fill="#fff" stroke="#fff" stroke-width="0.15" text-anchor="start">Engagement</text>
<path d="M912.0,940.0 h5 l-2.5,2.6 z" fill="#fff"/>
<text transform="translate(521.5 966.8) scale(0.905 1)" font-size="10.5" fill="#111" text-anchor="start">1.</text>
<text transform="translate(558.4 966.8) scale(0.905 1)" font-size="10.5" fill="#111" text-anchor="start">bangkok_bma</text>
<text transform="translate(746.5 966.8) scale(0.905 1)" font-size="10.5" fill="#111" text-anchor="start">instagram</text>
<text transform="translate(921.3 966.8) scale(0.905 1)" font-size="10.5" fill="#111" text-anchor="end">307</text>
<rect x="514.4" y="974.1" width="413.1" height="1" fill="#dcdcdc"/>
<text transform="translate(521.5 990.1) scale(0.905 1)" font-size="10.5" fill="#111" text-anchor="start">2.</text>
<text x="558.4" y="989.3" font-size="10.8" fill="#1e1e1e" stroke="#1e1e1e" stroke-width="0.22" textLength="76.6" lengthAdjust="spacingAndGlyphs">vsnwvusxrnoza o</text>
<text transform="translate(746.5 990.1) scale(0.905 1)" font-size="10.5" fill="#111" text-anchor="start">facebook</text>
<text transform="translate(921.3 990.1) scale(0.905 1)" font-size="10.5" fill="#111" text-anchor="end">31</text>
<rect x="514.4" y="997.4" width="413.1" height="1" fill="#dcdcdc"/>
<text transform="translate(521.5 1013.3) scale(0.905 1)" font-size="10.5" fill="#111" text-anchor="start">3.</text>
<text transform="translate(558.4 1013.3) scale(0.905 1)" font-size="10.5" fill="#111" text-anchor="start">bangkokbma</text>
<text transform="translate(746.5 1013.3) scale(0.905 1)" font-size="10.5" fill="#111" text-anchor="start">x</text>
<text transform="translate(921.3 1013.3) scale(0.905 1)" font-size="10.5" fill="#111" text-anchor="end">27</text>
<rect x="514.4" y="1020.6" width="413.1" height="1" fill="#dcdcdc"/>
<text transform="translate(521.5 1036.6) scale(0.905 1)" font-size="10.5" fill="#111" text-anchor="start">4.</text>
<text transform="translate(558.4 1036.6) scale(0.905 1)" font-size="10.5" fill="#111" text-anchor="start">pr_sathon</text>
<text transform="translate(746.5 1036.6) scale(0.905 1)" font-size="10.5" fill="#111" text-anchor="start">tiktok</text>
<text transform="translate(921.3 1036.6) scale(0.905 1)" font-size="10.5" fill="#111" text-anchor="end">23</text>
<rect x="514.4" y="1043.9" width="413.1" height="1" fill="#dcdcdc"/>
<text transform="translate(521.5 1059.8) scale(0.905 1)" font-size="10.5" fill="#111" text-anchor="start">5.</text>
<text x="558.4" y="1059.0" font-size="10.8" fill="#1e1e1e" stroke="#1e1e1e" stroke-width="0.22" textLength="90" lengthAdjust="spacingAndGlyphs">nxareome neswneo</text>
<text transform="translate(746.5 1059.8) scale(0.905 1)" font-size="10.5" fill="#111" text-anchor="start">facebook</text>
<text transform="translate(921.3 1059.8) scale(0.905 1)" font-size="10.5" fill="#111" text-anchor="end">7</text>
<rect x="514.4" y="1067.2" width="413.1" height="1" fill="#dcdcdc"/>
<text x="746.5" y="1083.5" font-size="10" font-weight="bold" fill="#111" textLength="47" lengthAdjust="spacingAndGlyphs">Grand total</text>
<text x="921.3" y="1083.5" font-size="10.3" letter-spacing="-0.35" font-weight="bold" fill="#111" text-anchor="end">415</text>
<text x="820.7" y="1106" font-size="10.2" letter-spacing="-0.45" fill="#222">1 - 10 / 69</text>
<path d="M889,1098 L885,1102.2 L889,1106.5" fill="none" stroke="#aaa" stroke-width="1.3"/>
<path d="M912.5,1097.5 L917,1102.2 L912.5,1106.9" fill="none" stroke="#111" stroke-width="1.6"/>
</svg>
<!-- /TABLES -->
<!-- FOOTER -->
<svg class="a" style="left:0;top:1149px" width="959" height="51" viewBox="0 1149 959 51">
  <rect x="0" y="1149" width="959" height="51" fill="#57846d"/>
  <path d="M0,1149 L114,1149 L118,1200 L0,1200 Z" fill="#7a9b8b"/>
  <path d="M114,1149 L178,1149 L181,1200 L118,1200 Z" fill="#215b41"/>
  <path d="M178,1149 L327,1149 Q300,1150 287,1153 L248,1200 L181,1200 Z" fill="#fdb955"/>
  <path d="M178,1149 L238,1149 L240,1160 L217,1200 L181,1200 Z" fill="#fdd08f"/>
  <path d="M327,1200 Q370,1165 427,1149 L595,1149 Q600,1180 616,1200 Z" fill="#215b41"/>
  <ellipse cx="458" cy="1143" rx="36" ry="13" fill="#5a8a70"/>
  <path d="M595,1149 L959,1149 L959,1200 L616,1200 Q600,1180 595,1149 Z" fill="#8aa58e"/>
  <path d="M959,1172 L959,1200 L954,1200 Z" fill="#1f6a47"/>
  <g fill="#f4f7f4">
    <circle cx="771.1" cy="1176" r="6.8"/><circle cx="787.5" cy="1176" r="6.8"/><circle cx="803.8" cy="1176" r="6.8"/><circle cx="820.4" cy="1176" r="6.8"/><circle cx="837.1" cy="1176" r="6.8"/>
  </g>
  <g stroke="#8aa58e" fill="none" stroke-width="1.6" stroke-linecap="round">
    <path d="M768.6,1172.6 L773.6,1179.4 M773.6,1172.6 L768.6,1179.4"/>
    <path d="M789.8,1172.3 Q787.4,1172 787.4,1174.4 V1180.2 M785.6,1175.6 H789.6" stroke-width="1.9"/>
    <path d="M839.6,1172.4 Q840,1174.6 842,1174.8" stroke-width="1.5"/>
    <path d="M838.2,1172 V1178.2 Q838.2,1180.2 836.2,1180.2 Q834.4,1180.2 834.4,1178.4 Q834.4,1176.6 836.4,1176.6" stroke-width="1.8"/>
  </g>
  <rect x="799.4" y="1172.5" width="8.8" height="7" rx="2" fill="#8aa58e"/>
  <path d="M802.8,1174.1 L806,1176 L802.8,1177.9 Z" fill="#f4f7f4"/>
  <rect x="816.4" y="1172" width="8" height="8" rx="2" fill="#8aa58e"/>
  <circle cx="820.4" cy="1176" r="1.8" fill="#f4f7f4"/>
  <text x="852" y="1180" font-family="Liberation Sans" font-size="11.2" font-weight="bold" letter-spacing="0.45" fill="#eef3ee" stroke="#eef3ee" stroke-width="0.35">@bangkokbma</text>
</svg>
</body></html>
